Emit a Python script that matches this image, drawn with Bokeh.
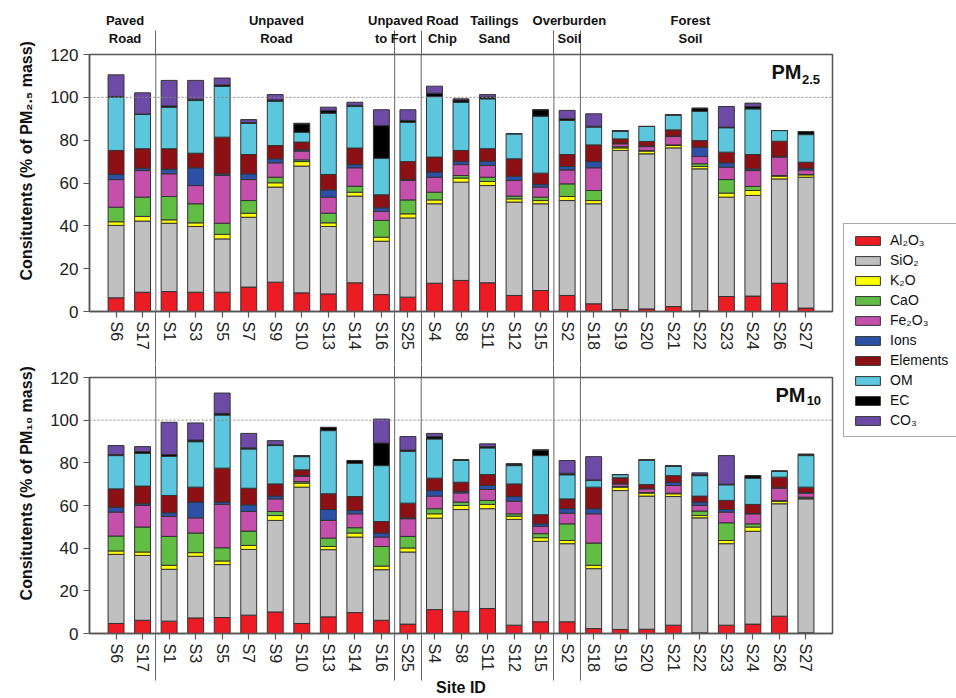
from bokeh.plotting import figure
from bokeh.models import (Range1d, FixedTicker, Span, Label, Legend, LegendItem,
                          ColumnDataSource, LinearAxis)
from bokeh.layouts import column, row
from bokeh.embed import file_html
from bokeh.resources import INLINE

# ---------------- data ----------------
sites = ["S6", "S17", "S1", "S3", "S5", "S7", "S9", "S10", "S13", "S14", "S16", "S25",
         "S4", "S8", "S11", "S12", "S15", "S2", "S18", "S19", "S20", "S21", "S22", "S23",
         "S24", "S26", "S27"]
components = ["Al2O3", "SiO2", "K2O", "CaO", "Fe2O3", "Ions", "Elements", "OM", "EC", "CO3"]
legend_labels = ["Al₂O₃", "SiO₂", "K₂O", "CaO", "Fe₂O₃", "Ions", "Elements", "OM", "EC", "CO₃"]
colors = ["#ec1c24", "#c0c0c0", "#ffff00", "#62bd45", "#c550ac", "#2c50a6",
          "#8c1014", "#5cc6dc", "#000000", "#6c4aa6"]

group_headers = ["Paved\nRoad", "Unpaved\nRoad", "Unpaved\nto Fort", "Road\nChip",
                 "Tailings\nSand", "Overburden\nSoil", "Forest\nSoil"]
dividers_before = ["S1", "S25", "S4", "S2", "S18"]

# PM2.5 (% of PM2.5 mass)
pm25_al2o3 = [6.4, 9.0, 9.3, 9.0, 9.0, 11.4, 13.7, 8.7, 8.2, 13.4, 7.9, 6.7, 13.2, 14.5, 13.4, 7.5, 9.8, 7.5, 3.6, 0.9, 1.2, 2.3, 0.3, 7.0, 7.2, 13.2, 1.6]
pm25_sio2 = [33.8, 33.2, 31.9, 30.7, 24.9, 32.6, 44.4, 59.2, 31.5, 40.5, 24.9, 37.0, 37.1, 45.9, 45.4, 43.6, 40.5, 44.3, 46.7, 74.3, 72.4, 74.1, 66.3, 46.4, 47.0, 48.7, 61.1]
pm25_k2o = [1.7, 2.2, 1.6, 1.7, 2.1, 1.9, 2.0, 2.1, 1.7, 1.8, 1.9, 1.9, 1.8, 1.9, 1.9, 1.5, 1.5, 1.9, 1.5, 1.2, 1.3, 1.1, 1.1, 1.9, 2.3, 1.3, 1.1]
pm25_cao = [6.8, 9.0, 10.9, 8.9, 5.2, 5.9, 2.6, 0.8, 4.5, 2.8, 7.8, 6.5, 3.6, 1.2, 2.0, 1.3, 1.6, 5.9, 4.7, 0.5, 0.3, 0.3, 1.3, 6.3, 1.9, 0.3, 0.2]
pm25_fe2o3 = [12.9, 12.4, 10.6, 8.5, 22.3, 9.8, 6.7, 4.1, 7.5, 8.6, 4.2, 9.1, 7.0, 5.1, 5.5, 7.3, 4.7, 6.5, 10.6, 1.4, 1.8, 3.9, 3.4, 5.8, 7.4, 8.6, 2.1]
pm25_ions = [2.4, 1.1, 2.2, 8.3, 0.8, 2.7, 1.9, 0.6, 3.4, 1.5, 1.7, 0.4, 2.4, 1.4, 2.0, 2.0, 1.2, 1.6, 2.9, 0.3, 0.3, 0.3, 4.3, 2.0, 0.8, 0.3, 0.8]
pm25_elements = [11.2, 9.1, 9.5, 6.8, 17.1, 9.0, 6.2, 3.6, 7.2, 7.7, 6.1, 8.4, 7.0, 5.2, 5.8, 8.1, 5.3, 5.6, 7.8, 2.0, 2.1, 2.8, 3.1, 5.0, 6.7, 7.1, 2.8]
pm25_om = [24.9, 16.0, 19.4, 24.6, 23.7, 14.6, 20.7, 4.6, 28.6, 19.4, 17.1, 18.4, 28.3, 22.5, 23.3, 11.7, 26.6, 15.9, 8.3, 3.6, 7.0, 7.0, 13.7, 11.4, 21.3, 5.0, 12.9]
pm25_ec = [0.3, 0.2, 0.6, 0.6, 0.7, 0.3, 0.6, 3.9, 1.3, 0.6, 15.2, 0.8, 1.5, 1.1, 0.8, 0.0, 3.0, 0.8, 0.4, 0.3, 0.0, 0.0, 1.4, 0.3, 1.1, 0.0, 1.4]
pm25_co3 = [10.1, 9.9, 11.9, 8.8, 3.2, 1.4, 2.5, 0.3, 1.5, 1.4, 7.4, 5.0, 3.3, 0.5, 1.2, 0.0, 0.0, 3.9, 5.8, 0.0, 0.0, 0.0, 0.0, 9.6, 1.6, 0.0, 0.0]

# PM10 (% of PM10 mass)
pm10_al2o3 = [4.7, 6.2, 5.8, 7.3, 7.5, 8.6, 10.1, 4.7, 7.8, 9.8, 6.2, 4.4, 11.2, 10.4, 11.7, 3.9, 5.5, 5.5, 2.3, 1.9, 2.0, 3.9, 0.3, 3.9, 4.4, 8.1, 0.3]
pm10_sio2 = [32.4, 30.4, 24.3, 28.9, 24.8, 30.8, 42.9, 63.9, 31.5, 35.4, 23.7, 33.8, 42.9, 47.7, 46.8, 49.6, 37.7, 36.6, 28.1, 65.1, 62.4, 60.3, 53.9, 38.2, 43.5, 52.7, 62.8]
pm10_k2o = [1.6, 1.6, 1.9, 1.7, 1.7, 1.9, 2.3, 1.9, 1.5, 1.9, 1.7, 1.9, 2.0, 1.9, 2.0, 1.5, 1.7, 1.5, 1.6, 1.6, 1.4, 1.3, 1.1, 1.5, 2.0, 1.2, 0.3]
pm10_cao = [7.0, 11.7, 13.5, 9.2, 6.2, 6.7, 1.9, 0.7, 3.9, 2.5, 9.2, 5.4, 2.4, 1.6, 1.9, 1.1, 1.9, 7.8, 10.4, 0.3, 0.3, 0.3, 2.1, 8.3, 1.5, 0.3, 0.5]
pm10_fe2o3 = [11.2, 10.1, 9.4, 7.1, 20.3, 9.2, 5.9, 2.4, 8.3, 6.5, 4.4, 8.3, 5.9, 4.3, 5.1, 5.9, 3.4, 5.0, 13.7, 1.2, 1.7, 3.6, 2.6, 5.0, 4.7, 5.8, 1.9]
pm10_ions = [2.3, 0.8, 1.7, 7.4, 1.1, 3.1, 1.3, 0.4, 5.1, 1.6, 1.9, 0.4, 2.6, 0.7, 1.9, 2.2, 1.2, 2.1, 2.4, 0.3, 0.3, 1.5, 1.6, 1.2, 0.2, 0.3, 0.3]
pm10_elements = [8.6, 8.3, 8.1, 7.0, 15.9, 7.8, 5.7, 2.7, 7.4, 6.5, 5.4, 6.9, 5.8, 4.3, 5.1, 5.9, 4.3, 4.6, 10.1, 2.6, 1.7, 3.1, 2.8, 4.3, 4.2, 4.9, 2.5]
pm10_om = [15.6, 15.4, 18.4, 21.3, 24.9, 18.4, 18.0, 6.2, 29.6, 15.6, 26.2, 24.3, 18.4, 10.2, 12.5, 8.6, 27.7, 11.3, 3.1, 1.5, 11.6, 4.3, 9.6, 7.3, 12.3, 2.8, 14.8]
pm10_ec = [0.5, 0.8, 0.8, 0.8, 0.8, 0.5, 0.4, 0.5, 1.5, 1.3, 10.6, 0.6, 1.1, 0.4, 0.6, 0.8, 2.6, 0.7, 0.3, 0.0, 0.0, 0.3, 0.5, 0.3, 1.2, 0.0, 0.6]
pm10_co3 = [4.2, 2.3, 15.1, 8.0, 9.5, 6.8, 1.9, 0.0, 0.0, 0.0, 11.2, 6.3, 1.5, 0.0, 1.3, 0.0, 0.0, 6.0, 10.9, 0.0, 0.0, 0.0, 0.8, 13.4, 0.0, 0.0, 0.0]

pm25 = [pm25_al2o3, pm25_sio2, pm25_k2o, pm25_cao, pm25_fe2o3, pm25_ions,
        pm25_elements, pm25_om, pm25_ec, pm25_co3]
pm10 = [pm10_al2o3, pm10_sio2, pm10_k2o, pm10_cao, pm10_fe2o3, pm10_ions,
        pm10_elements, pm10_om, pm10_ec, pm10_co3]

# ---------------- layout constants ----------------
FONT = "Liberation Sans"
AX = "#555555"
SEP = "#666666"
FIG_W = 836
PAD = "\u00a0" * 10      # shifts the rotated axis titles upward, as in the original
# x positions are in half-category units: site i is centred at 2*i + 1
site_x = [2 * i + 1 for i in range(len(sites))]
bounds = [2 * sites.index(s) for s in dividers_before]
header_pos = [168, 1309, 2206, 2560, 2952, 3517, 4429]     # in 1/100 half-category units


def make_panel(values, height, border_top, border_bottom, sep_below, ytitle):
    src = ColumnDataSource(dict(x=site_x, **{c: v for c, v in zip(components, values)}))
    p = figure(x_range=Range1d(-1, 2 * len(sites) + 1), y_range=Range1d(0, 120),
               width=FIG_W, height=height, output_backend="svg", toolbar_location=None,
               title=None, min_border_left=89, min_border_right=4,
               min_border_top=border_top, min_border_bottom=border_bottom)
    p.vbar_stack(components, x="x", width=1.2, source=src, fill_color=colors,
                 line_color="#333333", line_width=1)
    p.xgrid.visible = False
    p.ygrid.visible = False
    p.outline_line_color = AX
    p.outline_line_width = 1.5
    p.add_layout(Span(location=100, dimension="width", line_color="#888888",
                      line_dash="2 2", line_width=1))
    for b in bounds:
        p.add_layout(Span(location=b, dimension="height", line_color=SEP, line_width=1))
    xa = p.below[0]
    ya = p.left[0]
    for ax in (xa, ya):
        ax.axis_line_color = AX
        ax.axis_line_width = 1.5
        ax.major_tick_line_color = AX
        ax.major_tick_line_width = 1.2
        ax.major_tick_in = 0
        ax.major_tick_out = 6
        ax.minor_tick_in = 0
        ax.major_label_text_font = FONT
        ax.major_label_text_color = "#222222"
    ya.ticker = FixedTicker(ticks=[0, 20, 40, 60, 80, 100, 120])
    ya.minor_tick_out = 0
    ya.major_label_text_font_size = "17px"
    ya.major_label_standoff = 5
    ya.axis_label = PAD + ytitle
    ya.axis_label_text_font = FONT
    ya.axis_label_text_font_style = "bold"
    ya.axis_label_text_font_size = "16px"
    ya.axis_label_text_color = "#111111"
    ya.axis_label_standoff = 12
    # site labels; long minor ticks continue the group separators below the frame
    xa.ticker = FixedTicker(ticks=site_x, minor_ticks=bounds)
    xa.major_label_overrides = {x: s for x, s in zip(site_x, sites)}
    xa.major_label_orientation = "vertical"
    xa.major_label_text_font_size = "16px"
    xa.minor_tick_out = sep_below
    xa.major_label_standoff = 10 - sep_below
    xa.minor_tick_line_color = SEP
    xa.minor_tick_line_width = 1
    return p, xa


top, top_x = make_panel(pm25, 364, 54, 53, 53, "Consitutents (% of PM₂.₅ mass)")
bot, bot_x = make_panel(pm10, 334, 13, 65, 47, "Consitutents (% of PM₁₀ mass)")

# group headers (above axis of the top panel), separator ticks reach up into them
top.extra_x_ranges = {"hdr": Range1d(-100, 100 * (2 * len(sites) + 1))}
hdr_axis = LinearAxis(x_range_name="hdr",
                      ticker=FixedTicker(ticks=header_pos, minor_ticks=[100 * b for b in bounds]),
                      major_label_overrides={t: h for t, h in zip(header_pos, group_headers)},
                      axis_line_color=None, major_tick_in=0, major_tick_out=0,
                      minor_tick_in=0, minor_tick_out=24, minor_tick_line_color=SEP,
                      major_label_standoff=9 - 24, major_label_text_font=FONT,
                      major_label_text_font_style="bold", major_label_text_font_size="13px",
                      major_label_text_color="#111111")
top.add_layout(hdr_axis, "above")

# separator continuation above the bottom panel
sep_axis = LinearAxis(ticker=FixedTicker(ticks=[], minor_ticks=bounds),
                      axis_line_color=None, major_tick_in=0, major_tick_out=0,
                      minor_tick_in=0, minor_tick_out=13, minor_tick_line_color=SEP,
                      major_label_text_font_size="0px", major_label_standoff=-13)
bot.add_layout(sep_axis, "above")

# x-axis title
bot_x.axis_label = "Site ID"
bot_x.axis_label_text_font = FONT
bot_x.axis_label_text_font_style = "bold"
bot_x.axis_label_text_font_size = "16px"
bot_x.axis_label_text_color = "#111111"
bot_x.axis_label_standoff = 4

# panel tags
for p, sub, xpm, ypm, xs, ys in ((top, "2.5", 50.4, 111.8, 52.7, 108.3),
                                 (bot, "10", 50.7, 112.0, 53.05, 109.4)):
    p.add_layout(Label(x=xpm, y=ypm, text="PM", text_font=FONT, text_font_style="bold",
                       text_font_size="20px", text_baseline="alphabetic", text_color="#111111"))
    p.add_layout(Label(x=xs, y=ys, text=sub, text_font=FONT, text_font_style="bold",
                       text_font_size="13px", text_baseline="alphabetic", text_color="#111111"))

# legend panel
lg = figure(width=956 - FIG_W, height=698, x_range=Range1d(0, 1), y_range=Range1d(0, 1),
            output_backend="svg", toolbar_location=None, title=None, min_border=0,
            x_axis_location=None, y_axis_location=None)
lg.outline_line_color = None
lg.grid.visible = False
items = []
for c, lab in zip(colors, legend_labels):
    # swatch proxy, kept outside the visible range of the legend panel
    r = lg.vbar(x=[-5], top=[0], width=0.1, fill_color=c, line_color="#333333", line_width=1)
    items.append(LegendItem(label=lab, renderers=[r]))
legend = Legend(items=items, location=(7, 261), glyph_width=31, glyph_height=11,
                label_standoff=7, padding=8, spacing=4, margin=0,
                label_text_font=FONT, label_text_font_size="14px",
                label_text_color="#111111", border_line_color="#555555",
                border_line_width=1.5, background_fill_color="white")
lg.add_layout(legend)

layout = row(column(top, bot), lg)
open("out.html", "w").write(file_html(layout, INLINE))
